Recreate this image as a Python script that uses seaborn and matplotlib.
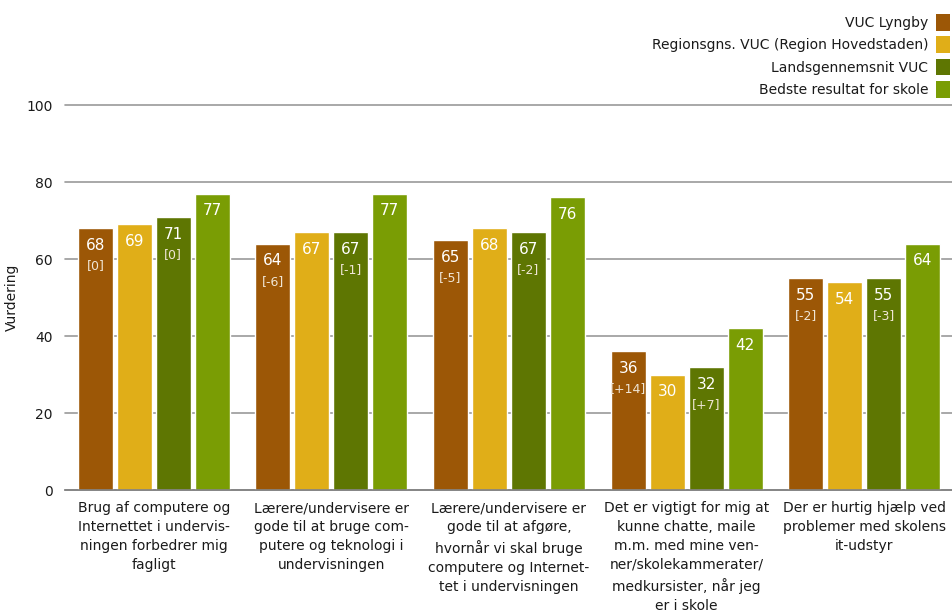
import matplotlib
matplotlib.use("Agg")
import matplotlib.pyplot as plt
from matplotlib.patches import Patch
import pandas as pd
import seaborn as sns

categories = [
    "Brug af computere og\nInternettet i undervis-\nningen forbedrer mig\nfagligt",
    "Lærere/undervisere er\ngode til at bruge com-\nputere og teknologi i\nundervisningen",
    "Lærere/undervisere er\ngode til at afgøre,\nhvornår vi skal bruge\ncomputere og Internet-\ntet i undervisningen",
    "Det er vigtigt for mig at\nkunne chatte, maile\nm.m. med mine ven-\nner/skolekammerater/\nmedkursister, når jeg\ner i skole",
    "Der er hurtig hjælp ved\nproblemer med skolens\nit-udstyr",
]
series_names = [
    "VUC Lyngby",
    "Regionsgns. VUC (Region Hovedstaden)",
    "Landsgennemsnit VUC",
    "Bedste resultat for skole",
]
vuc_lyngby = [68, 64, 65, 36, 55]
region_avg = [69, 67, 68, 30, 54]
national_avg = [71, 67, 67, 32, 55]
best_school = [77, 77, 76, 42, 64]
lyngby_diff = ["[0]", "[-6]", "[-5]", "[+14]", "[-2]"]
national_diff = ["[0]", "[-1]", "[-2]", "[+7]", "[-3]"]

colors = ["#9c5706", "#e0ae18", "#5e7602", "#7a9d04"]

sns.set_theme(style="white")
plt.rcParams["font.family"] = ["DejaVu Sans"]

rows = []
for name, vals in zip(series_names, [vuc_lyngby, region_avg, national_avg, best_school]):
    for cat, v in zip(categories, vals):
        rows.append({"Kategori": cat, "Serie": name, "Vurdering": v})
df = pd.DataFrame(rows)

fig = plt.figure(figsize=(9.53, 6.12), dpi=100)
ax = fig.add_axes([0.0682, 0.1993, 0.9318, 0.6291])

sns.barplot(data=df, x="Kategori", y="Vurdering", hue="Serie",
            hue_order=series_names, palette=colors, width=0.878, gap=0.1,
            saturation=1, legend=False, ax=ax)

ax.set_ylim(0, 100)
ax.set_yticks([0, 20, 40, 60, 80, 100])
ax.yaxis.grid(True, color="#9a9a9a", linewidth=1.2)
for gl in ax.get_ygridlines():
    gl.set_clip_on(False)
ax.set_axisbelow(True)
for side in ["top", "right", "left"]:
    ax.spines[side].set_visible(False)
ax.spines["bottom"].set_color("#808080")
ax.spines["bottom"].set_linewidth(1.2)
ax.set_xlim(-0.5, len(categories) - 0.5)
ax.tick_params(axis="both", length=0, labelsize=10, colors="#1a1a1a")
ax.tick_params(axis="x", pad=8)
ax.tick_params(axis="y", pad=9)
ax.set_xlabel("")
ax.set_ylabel("Vurdering", fontsize=10, color="#1a1a1a", labelpad=5)
for lbl in ax.get_xticklabels():
    lbl.set_linespacing(1.45)

diffs = {0: lyngby_diff, 2: national_diff}
for si, container in enumerate(ax.containers):
    for ci, bar in enumerate(container):
        h = bar.get_height()
        xc = bar.get_x() + bar.get_width() / 2
        ax.annotate(f"{h:.0f}", (xc, h), xytext=(0, -12.5), textcoords="offset points",
                    ha="center", va="center", color="white", fontsize=11)
        if si in diffs:
            ax.annotate(diffs[si][ci], (xc, h), xytext=(0, -27), textcoords="offset points",
                        ha="center", va="center", color="#f0e6d6", fontsize=9)

handles = [Patch(facecolor=c, edgecolor="none") for c in colors]
fig.legend(handles, series_names, loc="upper right", bbox_to_anchor=(1.003, 0.986),
           markerfirst=False, frameon=False, fontsize=10, handlelength=1.0,
           handleheight=1.45, handletextpad=0.6, labelspacing=0.42,
           borderaxespad=0.0, labelcolor="#1a1a1a")

fig.savefig("out.png", dpi=100)
